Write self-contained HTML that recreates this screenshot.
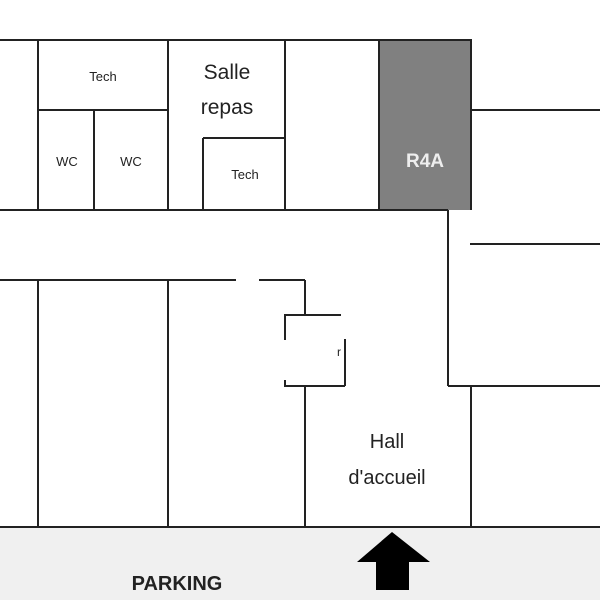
<!DOCTYPE html>
<html><head><style>body{margin:0;background:#fff}svg{display:block}</style></head><body>
<svg width="600" height="600" xmlns="http://www.w3.org/2000/svg" font-family="Liberation Sans, sans-serif">
<rect x="0" y="528" width="600" height="72" fill="#f0f0f0"/>
<rect x="379" y="40" width="92" height="170" fill="#808080"/>
<g stroke="#222" stroke-width="2" fill="none">
<line x1="0" y1="40" x2="472" y2="40"/>
<line x1="471" y1="40" x2="471" y2="210"/>
<line x1="0" y1="210" x2="448" y2="210"/>
<line x1="38" y1="40" x2="38" y2="210"/>
<line x1="168" y1="40" x2="168" y2="210"/>
<line x1="38" y1="110" x2="168" y2="110"/>
<line x1="94" y1="110" x2="94" y2="210"/>
<line x1="285" y1="40" x2="285" y2="210"/>
<line x1="203" y1="138" x2="285" y2="138"/>
<line x1="203" y1="138" x2="203" y2="210"/>
<line x1="379" y1="40" x2="379" y2="210"/>
<line x1="471" y1="110" x2="600" y2="110"/>
<line x1="448" y1="210" x2="448" y2="386"/>
<line x1="448" y1="386" x2="600" y2="386"/>
<line x1="470" y1="244" x2="600" y2="244"/>
<line x1="471" y1="386" x2="471" y2="527"/>
<line x1="0" y1="280" x2="236" y2="280"/>
<line x1="259" y1="280" x2="305" y2="280"/>
<line x1="305" y1="280" x2="305" y2="315"/>
<line x1="284" y1="315" x2="341" y2="315"/>
<line x1="285" y1="315" x2="285" y2="340"/>
<line x1="345" y1="339" x2="345" y2="386"/>
<line x1="284" y1="386" x2="345" y2="386"/>
<line x1="285" y1="380" x2="285" y2="386"/>
<line x1="305" y1="386" x2="305" y2="527"/>
<line x1="38" y1="280" x2="38" y2="527"/>
<line x1="168" y1="280" x2="168" y2="527"/>
<line x1="0" y1="527" x2="600" y2="527"/>
</g>
<g fill="#222" text-anchor="middle">
<text x="103" y="81" font-size="13">Tech</text>
<text x="67" y="166" font-size="13">WC</text>
<text x="131" y="166" font-size="13">WC</text>
<text x="227" y="79" font-size="21">Salle</text>
<text x="227" y="114" font-size="21">repas</text>
<text x="245" y="179" font-size="13">Tech</text>
<text x="339" y="356" font-size="12">r</text>
<text x="387" y="448" font-size="20">Hall</text>
<text x="387" y="484" font-size="20">d'accueil</text>
<text x="177" y="590" font-size="20" font-weight="bold">PARKING</text>
</g>
<text x="425" y="167" font-size="19" font-weight="bold" fill="#eee" text-anchor="middle">R4A</text>
<polygon points="392,532 430,562 409,562 409,590 376,590 376,562 357,562" fill="#000"/>
</svg>
</body></html>
